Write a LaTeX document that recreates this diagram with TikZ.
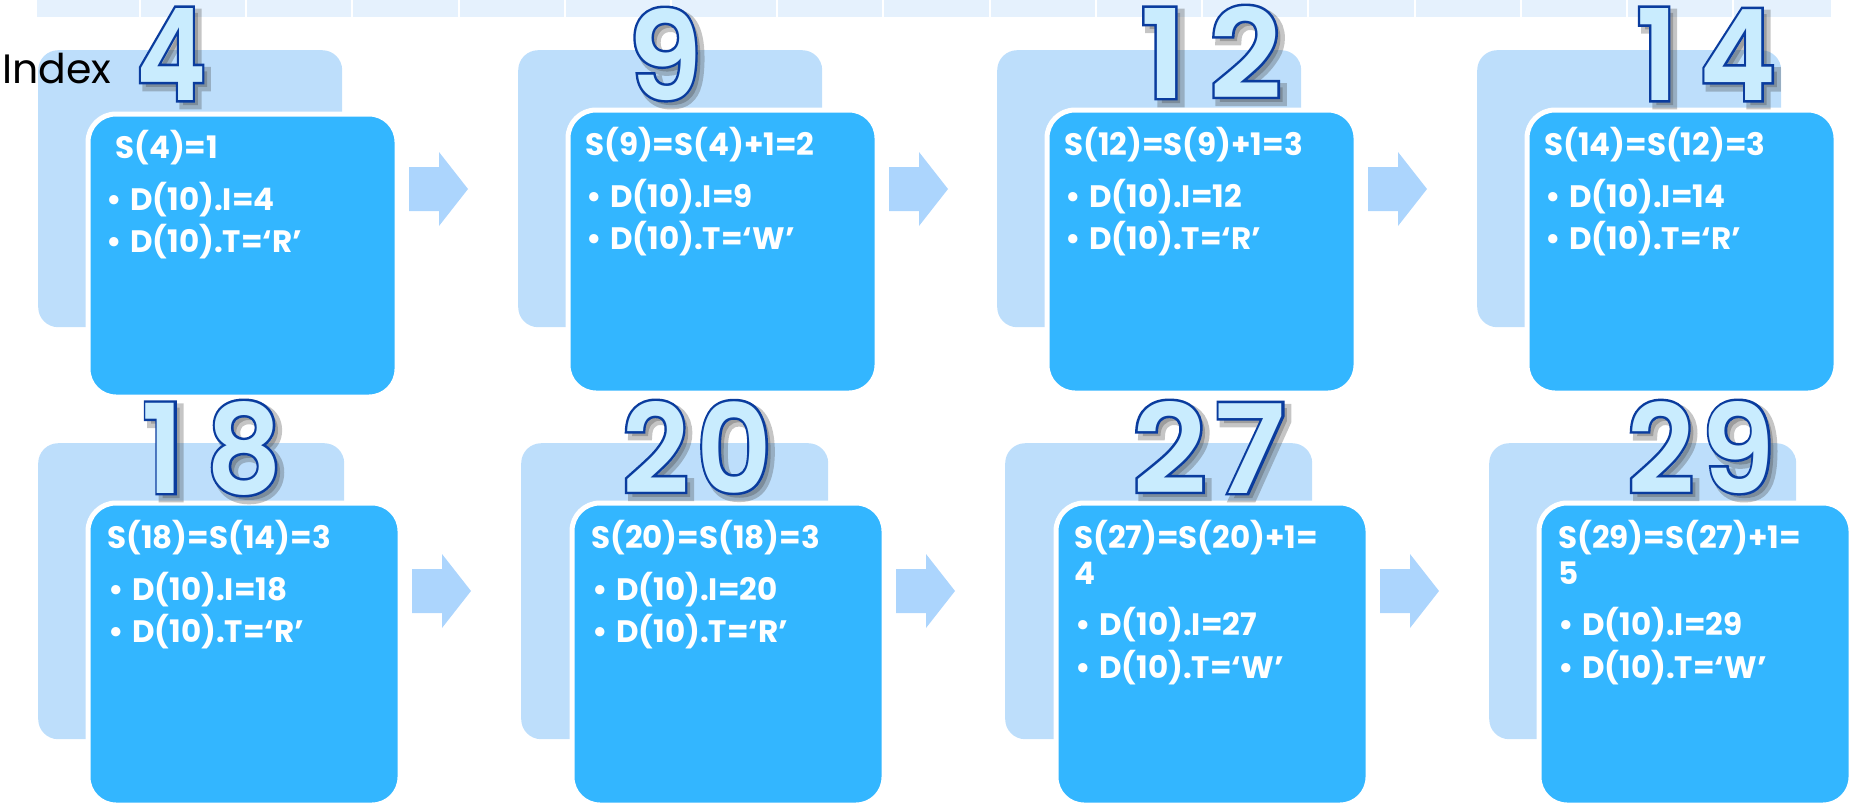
\documentclass[tikz,border=0pt]{standalone}
\usepackage{fontspec}
\setmainfont{Poppins}
\usepackage{graphicx}
\usetikzlibrary{calc}

\definecolor{frontblue}{HTML}{33B6FF}
\definecolor{backblue}{HTML}{BDDEFB}
\definecolor{arrowblue}{HTML}{ACD5FD}
\definecolor{stripblue}{HTML}{E5F1FD}
\definecolor{numfill}{HTML}{C9ECFE}
\definecolor{numline}{HTML}{0A3C9E}

% faces for the big step numbers: plain, stroked (outline), wide stroke (shadow)
\newfontfamily\numfont{Poppins SemiBold}
\newfontfamily\numfontline{Poppins SemiBold}[FakeBold=4]
\newfontfamily\numfontshade{Poppins SemiBold}[FakeBold=7]

% digits set at 130pt, then fitted to a given width and a 92pt height
\newcommand\bigdigits[3]{\resizebox{#1}{92pt}{#2\fontsize{130}{130}\selectfont #3}}
\newcommand\numlabel[5]{% name, centre x, baseline y, width, digits
  \node[numshade] at (#2+5,#3+5) {\bigdigits{#4}{\numfontshade}{#5}};
  \node[numoutline] at (#2,#3) {\bigdigits{#4}{\numfontline}{#5}};
  \node[numtext] (#1) at (#2,#3) {\bigdigits{#4}{\numfont}{#5}};}
\newcommand\one{1\kern24pt}
\newcommand\dg{\kern8pt}

% one card: back panel, front panel with white rim
\newcommand\card[9]{% name, back x0,y0,x1,y1, front x0,y0,x1,y1
  \node[backcard, minimum width=#4-#2, minimum height=#5-#3] (b#1) at (#2,#3) {};
  \node[frontcard, minimum width=#8-#6+5, minimum height=#9-#7+5] (f#1) at (#6-2.5,#7-2.5) {};}

\newcommand\bul{\makebox[24pt][l]{\textbullet}}

\tikzset{
  backcard/.style={anchor=north west, inner sep=0pt, fill=backblue, rounded corners=20pt},
  frontcard/.style={anchor=north west, inner sep=0pt, fill=frontblue, draw=white, line width=5pt, rounded corners=28pt},
  cardtxt/.style={anchor=base west, inner sep=0pt, text=white, font=\fontsize{31}{31}\selectfont\bfseries},
  numshade/.style={anchor=base, inner sep=0pt, text=black!75, text opacity=0.3},
  numoutline/.style={anchor=base, inner sep=0pt, text=numline},
  numtext/.style={anchor=base, inner sep=0pt, text=numfill},
  blockarrow/.pic={\fill[arrowblue] (0,-22) -- (30,-22) -- (30,-37) -- (59,0) -- (30,37) -- (30,22) -- (0,22) -- cycle;}
}

\begin{document}
\begin{tikzpicture}[x=1pt,y=-1pt]
\useasboundingbox (0,0) rectangle (1854,808);

% header strip of the index table
\fill[stripblue] (37,0) rectangle (1831,17);
\foreach \x in {140,246,352,459,565,671,777,883,990,1096,1202,1308,1415,1521,1627,1733}
  \draw[white, line width=1.6pt] (\x,0) -- (\x,17);

% cards, first row
\card{1}{38}{50}{342}{327}{88}{114}{392}{392}
\card{2}{518}{50}{822}{327}{568}{110}{872}{388}
\card{3}{997}{50}{1301}{327}{1047}{110}{1351}{388}
\card{4}{1477}{50}{1781}{327}{1527}{110}{1831}{388}
% cards, second row
\card{5}{38}{443}{344}{739}{88}{503}{395}{800}
\card{6}{521}{443}{828}{739}{572}{503}{879}{800}
\card{7}{1005}{443}{1312}{739}{1056}{503}{1363}{800}
\card{8}{1489}{443}{1796}{739}{1539}{503}{1846}{800}

% arrows between consecutive cards
\coordinate (a12) at ($(f1.east |- 0,189)+(9.5,0)$);
\coordinate (a23) at ($(f2.east |- 0,189)+(9.5,0)$);
\coordinate (a34) at ($(f3.east |- 0,189)+(9.5,0)$);
\coordinate (a56) at ($(f5.east |- 0,591)+(9.5,0)$);
\coordinate (a67) at ($(f6.east |- 0,591)+(9.5,0)$);
\coordinate (a78) at ($(f7.east |- 0,591)+(9.5,0)$);
\foreach \a in {a12,a23,a34,a56,a67,a78} \pic at (\a) {blockarrow};

\node[anchor=base west, inner sep=0pt, font=\fontsize{41}{41}\selectfont] (idx) at (2,83) {Index};

% card texts
\node[cardtxt] (t1) at (115,158) {S(4)=1};
\node[cardtxt] (p1a) at (106,210) {\bul D(10).I=4};
\node[cardtxt] (p1b) at (106,252) {\bul D(10).T=‘R’};

\node[cardtxt] (t2) at (585,155) {S(9)=S(4)+1=2};
\node[cardtxt] (p2a) at (586,207) {\bul D(10).I=9};
\node[cardtxt] (p2b) at (586,249) {\bul D(10).T=‘W’};

\node[cardtxt] (t3) at (1064,155) {S(12)=S(9)+1=3};
\node[cardtxt] (p3a) at (1065,207) {\bul D(10).I=12};
\node[cardtxt] (p3b) at (1065,249) {\bul D(10).T=‘R’};

\node[cardtxt] (t4) at (1544,155) {S(14)=S(12)=3};
\node[cardtxt] (p4a) at (1545,207) {\bul D(10).I=14};
\node[cardtxt] (p4b) at (1545,249) {\bul D(10).T=‘R’};

\node[cardtxt] (t5) at (107,548) {S(18)=S(14)=3};
\node[cardtxt] (p5a) at (108,600) {\bul D(10).I=18};
\node[cardtxt] (p5b) at (108,642) {\bul D(10).T=‘R’};

\node[cardtxt] (t6) at (591,548) {S(20)=S(18)=3};
\node[cardtxt] (p6a) at (592,600) {\bul D(10).I=20};
\node[cardtxt] (p6b) at (592,642) {\bul D(10).T=‘R’};

\node[cardtxt] (t7) at (1074,548) {S(27)=S(20)+1=};
\node[cardtxt] (t7b) at (1074,584) {4};
\node[cardtxt] (p7a) at (1075,635) {\bul D(10).I=27};
\node[cardtxt] (p7b) at (1075,678) {\bul D(10).T=‘W’};

\node[cardtxt] (t8) at (1558,548) {S(29)=S(27)+1=};
\node[cardtxt] (t8b) at (1558,584) {5};
\node[cardtxt] (p8a) at (1558,635) {\bul D(10).I=29};
\node[cardtxt] (p8b) at (1558,678) {\bul D(10).T=‘W’};

% step numbers
\numlabel{n1}{171}{100}{70pt}{4}
\numlabel{n2}{665}{100}{74pt}{9}
\numlabel{n3}{1211}{98}{142pt}{\one 2}
\numlabel{n4}{1706}{100}{140pt}{\one 4}
\numlabel{n5}{212}{493}{140pt}{\one 8}
\numlabel{n6}{697}{493}{150pt}{2\dg 0}
\numlabel{n7}{1209}{493}{154pt}{2\dg 7}
\numlabel{n8}{1701}{493}{148pt}{2\dg 9}
\end{tikzpicture}
\end{document}
